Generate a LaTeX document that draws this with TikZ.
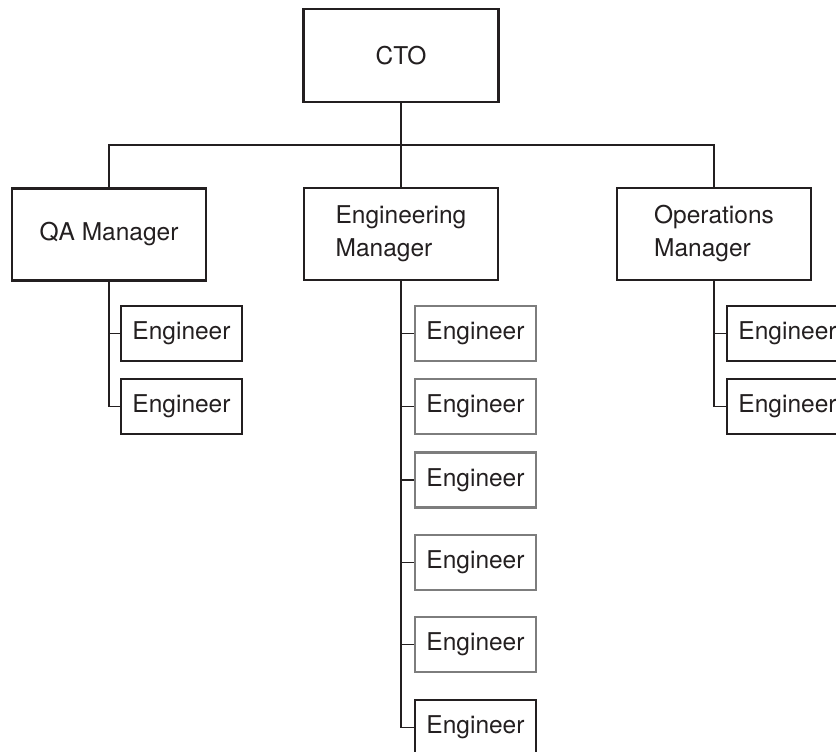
\documentclass[tikz,border=0pt]{standalone}
\usepackage{fontspec}
\setmainfont{TeX Gyre Heros}
\usetikzlibrary{positioning}

\tikzset{
  chief/.style={draw={rgb, 255:red, 35; green, 31; blue, 32}, line width=2.4pt, minimum width=195pt, minimum height=93pt, inner sep=0pt, align=left},
  mgr/.style={draw={rgb, 255:red, 35; green, 31; blue, 32}, line width=2.4pt, minimum width=194pt, minimum height=92pt, inner sep=0pt, align=left},
  engbox/.style={draw={rgb, 255:red, 35; green, 31; blue, 32}, line width=2.4pt, minimum width=121pt, minimum height=55pt, inner sep=0pt},
  greybox/.style={engbox, draw={rgb, 255:red, 125; green, 125; blue, 125}},
  link/.style={draw={rgb, 255:red, 35; green, 31; blue, 32}, line width=1.2pt},
}

\begin{document}
\begin{tikzpicture}[x=1pt,y=1pt,yscale=-1,xscale=1,
  every node/.style={font=\fontsize{24.5}{33}\selectfont, text={rgb, 255:red, 35; green, 31; blue, 32}}]
\useasboundingbox (0,0) rectangle (836,752);
\clip (0,0) rectangle (836,752);

% Top box
\node [chief] (cto) at (401,55.5) {CTO};

% Managers
\node [mgr] (qa) at (109,234.5) {QA Manager};
\node [mgr] (eng) at (401,234) {Engineering\\Manager};
\node [mgr] (ops) at (714,234) {Operations\\Manager};

% Engineers under QA
\node [engbox] (qa1) at (181.5,333.5) {Engineer};
\node [engbox] (qa2) at (181.5,406.5) {Engineer};

% Engineers under Engineering
\node [greybox] (eng1) at (475.5,333.5) {Engineer};
\node [greybox] (eng2) at (475.5,406.5) {Engineer};
\node [greybox] (eng3) at (475.5,480) {Engineer};
\node [greybox] (eng4) at (475.5,562.5) {Engineer};
\node [greybox] (eng5) at (475.5,644.5) {Engineer};
\node [engbox] (eng6) at (475.5,727.5) {Engineer};

% Engineers under Operations
\node [engbox] (ops1) at (787.5,333.5) {Engineer};
\node [engbox] (ops2) at (787.5,406.5) {Engineer};

%Straight Lines
\coordinate (bus) at (401,145);
\draw [link, line width=1.8pt] (cto.south) -- (bus);
\draw [link] (bus) -| (qa.north);
\draw [link] (bus) -| (ops.north);
\draw [link] (bus) -- (eng.north);

%Straight Lines
\foreach \m/\e in {qa/qa1,qa/qa2,ops/ops1,ops/ops2,eng/eng1,eng/eng2,eng/eng3,eng/eng4,eng/eng5,eng/eng6}
  \draw [link] (\m.south) |- (\e.west);
\end{tikzpicture}
\end{document}
